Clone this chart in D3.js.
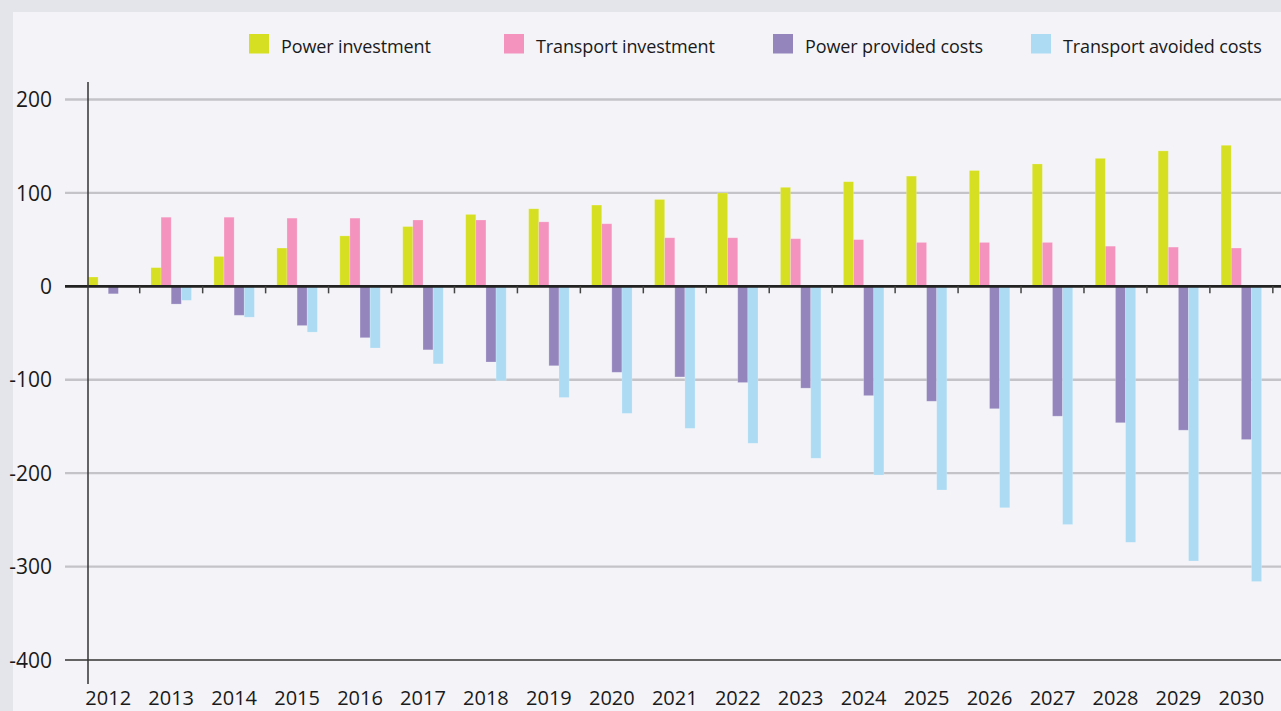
<!DOCTYPE html>
<html>
<head>
<meta charset="utf-8">
<script src="https://cdn.jsdelivr.net/npm/d3@7"></script>
<style>
  html, body { margin: 0; padding: 0; background: #e4e5ea; }
  svg { display: block; font-family: 'Open Sans', sans-serif; }
</style>
</head>
<body>
<script>
let years = d3.range(2012, 2031).map(String)
let seriesNames = ['Power investment', 'Transport investment', 'Power provided costs', 'Transport avoided costs']
let powerInvestment = [10, 20, 32, 41, 54, 64, 77, 83, 87, 93, 100, 106, 112, 118, 124, 131, 137, 145, 151]
let transportInvestment = [0, 74, 74, 73, 73, 71, 71, 69, 67, 52, 52, 51, 50, 47, 47, 47, 43, 42, 41]
let powerProvidedCosts = [-8, -19, -31, -42, -55, -68, -81, -85, -92, -97, -103, -109, -117, -123, -131, -139, -146, -154, -164]
let transportAvoidedCosts = [0, -15, -33, -49, -66, -83, -101, -119, -136, -152, -168, -184, -202, -218, -237, -255, -274, -294, -316]
let yTicks = [200, 100, 0, -100, -200, -300, -400]

let colors = ['#d7df23', '#f493bd', '#9486bd', '#acdbf3']
let series = [powerInvestment, transportInvestment, powerProvidedCosts, transportAvoidedCosts]

let width = 1281,
  height = 711

let svg = d3.select('body').append('svg')
  .attr('width', width)
  .attr('height', height)

// panel
svg.append('rect')
  .attr('x', 13)
  .attr('y', 12)
  .attr('width', width - 13)
  .attr('height', height - 12)
  .attr('fill', '#f3f3f8')

let scaleX = d3.scaleBand()
  .domain(years)
  .range([88, 1261.6])
  .paddingInner(0.357)
  .paddingOuter(0)

let scaleInner = d3.scaleBand()
  .domain(d3.range(series.length))
  .range([0, scaleX.bandwidth()])

let scaleY = d3.scaleLinear()
  .domain([-400, 200])
  .range([660, 99.5])

// gridlines
svg.append('g')
  .selectAll('line')
  .data(yTicks.filter(d => d !== 0 && d !== -400))
  .enter()
  .append('line')
  .attr('x1', 65)
  .attr('x2', width)
  .attr('y1', d => scaleY(d))
  .attr('y2', d => scaleY(d))
  .attr('stroke', '#c3c3c8')
  .attr('stroke-width', 2.4)

svg.append('line')
  .attr('x1', 65)
  .attr('x2', width)
  .attr('y1', scaleY(-400))
  .attr('y2', scaleY(-400))
  .attr('stroke', '#333')
  .attr('stroke-width', 1.6)

// bars
let rows = years.map((y, i) => series.map((s, k) => ({ year: y, k: k, v: s[i] })))

let groups = svg.append('g')
  .selectAll('g')
  .data(rows)
  .enter()
  .append('g')
  .attr('transform', (d, i) => 'translate(' + scaleX(years[i]) + ', 0)')

groups.selectAll('rect')
  .data(d => d.filter(e => e.v !== 0))
  .enter()
  .append('rect')
  .attr('x', d => scaleInner(d.k))
  .attr('width', scaleInner.bandwidth())
  .attr('y', d => scaleY(Math.max(0, d.v)))
  .attr('height', d => Math.abs(scaleY(d.v) - scaleY(0)))
  .attr('fill', d => colors[d.k])
  .attr('stroke', '#fff')
  .attr('stroke-opacity', 0.25)
  .attr('stroke-width', 0.8)

// zero line with ticks between groups
svg.append('line')
  .attr('x1', 65)
  .attr('x2', width)
  .attr('y1', scaleY(0))
  .attr('y2', scaleY(0))
  .attr('stroke', '#222')
  .attr('stroke-width', 2.8)

let gap = scaleX.step() - scaleX.bandwidth()
svg.append('g')
  .selectAll('line')
  .data(years)
  .enter()
  .append('line')
  .attr('x1', d => scaleX(d) + scaleX.bandwidth() + gap / 2)
  .attr('x2', d => scaleX(d) + scaleX.bandwidth() + gap / 2)
  .attr('y1', scaleY(0))
  .attr('y2', scaleY(0) + 7)
  .attr('stroke', '#444')
  .attr('stroke-width', 1.5)

// y axis line
svg.append('line')
  .attr('x1', 88)
  .attr('x2', 88)
  .attr('y1', 82)
  .attr('y2', 684)
  .attr('stroke', '#333')
  .attr('stroke-width', 1.5)

// y labels
svg.append('g')
  .selectAll('text')
  .data(yTicks)
  .enter()
  .append('text')
  .attr('x', 52)
  .attr('y', d => scaleY(d) + 7.6)
  .attr('text-anchor', 'end')
  .attr('font-size', 21)
  .attr('fill', '#1a1a1a')
  .text(d => d)

// x labels
svg.append('g')
  .selectAll('text')
  .data(years)
  .enter()
  .append('text')
  .attr('x', d => scaleX(d) + scaleX.bandwidth() / 2)
  .attr('y', 705)
  .attr('text-anchor', 'middle')
  .attr('font-size', 20)
  .attr('fill', '#1a1a1a')
  .text(d => d)

// legend
let legendX = [249, 504, 773, 1031]
let legend = svg.append('g')
  .selectAll('g')
  .data(seriesNames)
  .enter()
  .append('g')
  .attr('transform', (d, i) => 'translate(' + legendX[i] + ', 34)')

legend.append('rect')
  .attr('width', 20)
  .attr('height', 19.5)
  .attr('fill', (d, i) => colors[i])

legend.append('text')
  .attr('x', 32)
  .attr('y', 19.3)
  .attr('font-size', 18)
  .attr('letter-spacing', -0.12)
  .attr('fill', '#1a1a1a')
  .text(d => d)
</script>
</body>
</html>
